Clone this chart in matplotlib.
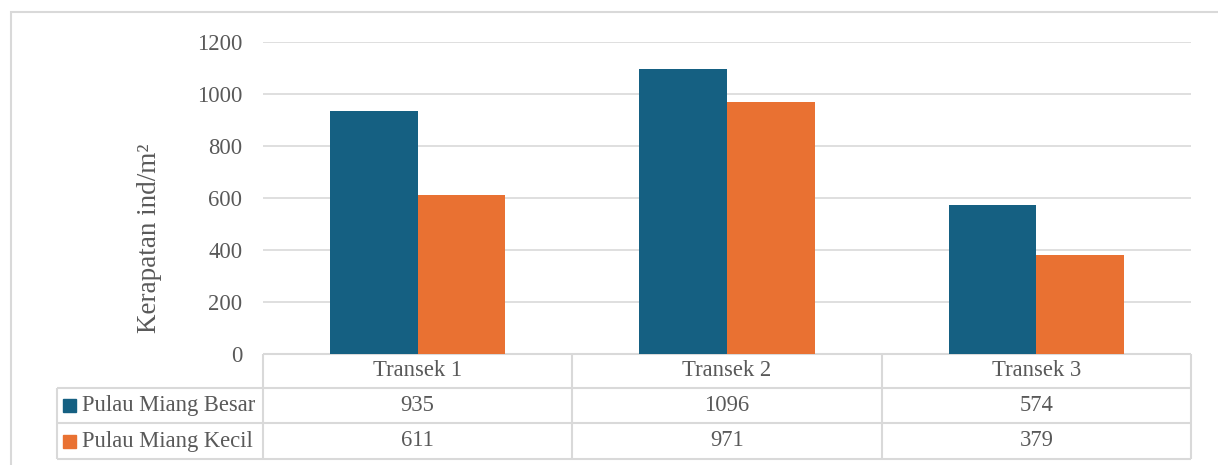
import numpy as np
import matplotlib.pyplot as plt
import matplotlib.transforms as mtransforms
from matplotlib.patches import Rectangle

# data
kategori = ["Transek 1", "Transek 2", "Transek 3"]
seri = ["Pulau Miang Besar", "Pulau Miang Kecil"]
besar = [935, 1096, 574]
kecil = [611, 971, 379]
warna = ["#156082", "#E97132"]

plt.rcParams['font.family'] = ['Liberation Serif', 'DejaVu Serif']
abu = "#595959"
garis = "#D9D9D9"
fs = 16.3

fig = plt.figure(figsize=(12.18, 4.65), dpi=100)
ax = fig.add_axes([263 / 1218, 1 - 354 / 465, 928 / 1218, 312 / 465])

x = np.arange(len(kategori))
lebar = 0.283
ax.bar(x - lebar / 2, besar, lebar, color=warna[0], zorder=3)
ax.bar(x + lebar / 2, kecil, lebar, color=warna[1], zorder=3)

ax.set_xlim(-0.5, len(kategori) - 0.5)
ax.set_ylim(0, 1200)
ax.set_yticks(range(0, 1201, 200))
ax.yaxis.grid(True, color=garis, lw=1.2, zorder=0)
ax.tick_params(axis='y', length=0, pad=15, labelsize=fs, labelcolor=abu)
ax.set_xticks([])
for s in ax.spines.values():
    s.set_visible(False)
ax.set_ylabel("Kerapatan ind/m²", fontsize=19.5, color=abu)
ax.yaxis.set_label_coords((162 - 263) / 928, (354 - 238) / 312)

# tabel data (x dalam data, y dalam axes)
tr = mtransforms.blended_transform_factory(ax.transData, ax.transAxes)
px = 1 / 312
kolom = [-0.5 + i for i in range(len(kategori) + 1)]
kiri = -0.5 - (263 - 57) / (928 / 3)
baris = [0, -34 * px, -69 * px, -105 * px]
kw = dict(transform=tr, color=garis, lw=1.5, clip_on=False, solid_capstyle='butt')
ax.plot([kolom[0], kolom[-1]], [baris[0]] * 2, **kw)
for yb in baris[1:]:
    ax.plot([kiri, kolom[-1]], [yb] * 2, **kw)
ax.plot([kiri, kiri], [baris[1], baris[3]], **kw)
for xk in kolom:
    ax.plot([xk, xk], [baris[0], baris[3]], **kw)

for i, k in enumerate(kategori):
    ax.text(x[i], (baris[0] + baris[1]) / 2, k, transform=tr, ha='center', va='center',
            fontsize=fs, color=abu)
for j, nilai in enumerate([besar, kecil]):
    yc = (baris[j + 1] + baris[j + 2]) / 2
    for i, v in enumerate(nilai):
        ax.text(x[i], yc, str(v), transform=tr, ha='center', va='center',
                fontsize=fs, color=abu)
    ax.text(kiri + 25 / (928 / 3), yc, seri[j], transform=tr, ha='left', va='center',
            fontsize=fs, color=abu)
    ax.add_patch(Rectangle((kiri + 6 / (928 / 3), yc - 6.5 * px), 13 / (928 / 3), 13 * px,
                           transform=tr, color=warna[j], clip_on=False, zorder=5))

# bingkai
fig.add_artist(Rectangle((11 / 1218, -0.1), 1.2, 1.1 - 12 / 465, transform=fig.transFigure,
                         fill=False, edgecolor=garis, lw=1.5))

fig.savefig("out.png", dpi=100)
